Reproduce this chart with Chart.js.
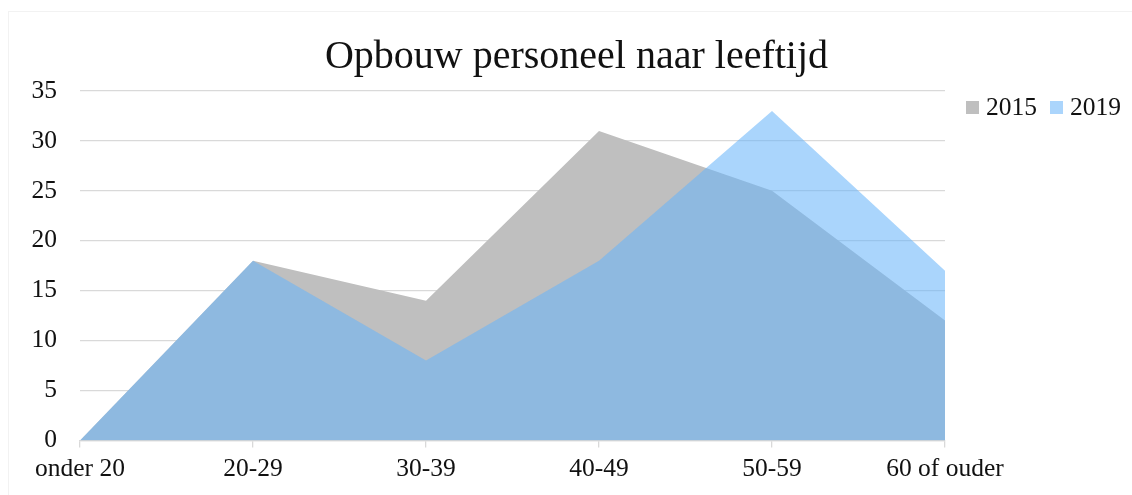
<!DOCTYPE html>
<html>
<head>
<meta charset="utf-8">
<script src="https://cdn.jsdelivr.net/npm/chart.js@4.4.1/dist/chart.umd.min.js"></script>
<style>
  html, body { margin: 0; padding: 0; background: #fff; }
  #wrap { position: relative; width: 1132px; height: 495px; overflow: hidden; }
  #frame { position: absolute; left: 8px; top: 11px; right: -2px; bottom: -2px; border: 1px solid #f2f2f2; }
  canvas { position: absolute; left: 0; top: 0; }
  #titulo { position: absolute; left: 0; width: 1153px; top: 35px; text-align: center; font-family: 'Liberation Serif', serif; font-size: 40px; line-height: 1; color: #111; }
  #legend { position: absolute; left: 966px; top: 92px; display: flex; font-family: 'Liberation Serif', serif; font-size: 25.5px; color: #111; line-height: 30px; }
  #legend span.item { display: flex; align-items: center; margin-right: 13px; }
  #legend span.box { display: inline-block; width: 13px; height: 13px; margin-right: 7px; }
</style>
</head>
<body>
<div id="wrap">
  <div id="frame"></div>
  <canvas id="c" width="1132" height="495"></canvas>
  <div id="titulo"></div>
  <div id="legend"></div>
</div>
<script>
// ---------- dados
const titulo = 'Opbouw personeel naar leeftijd';
const categorias = ['onder 20', '20-29', '30-39', '40-49', '50-59', '60 of ouder'];
const serie2015 = [0, 18, 14, 31, 25, 12];
const serie2019 = [0, 18, 8, 18, 33, 17];
const yTicks = [0, 5, 10, 15, 20, 25, 30, 35];

const cor2015 = '#bfbfbf';
const cor2019 = 'rgba(104,180,250,0.56)';
const cor2019Legenda = '#abd5fc';

Chart.defaults.font.family = "'Liberation Serif', serif";
Chart.defaults.color = '#111';

const chart = new Chart(document.getElementById('c'), {
  type: 'line',
  data: {
    labels: categorias,
    datasets: [
      { label: '2015', data: serie2015, backgroundColor: cor2015, borderWidth: 0, pointRadius: 0, fill: 'origin', order: 2 },
      { label: '2019', data: serie2019, backgroundColor: cor2019, borderWidth: 0, pointRadius: 0, fill: 'origin', order: 1 }
    ]
  },
  options: {
    responsive: false,
    animation: false,
    layout: { padding: { left: 0, right: 187, top: 91, bottom: 3 } },
    scales: {
      x: {
        offset: false,
        grid: { drawOnChartArea: false, drawTicks: true, tickLength: 7, color: '#d9d9d9', lineWidth: 1.3 },
        border: { color: '#d9d9d9', width: 1.3 },
        ticks: { font: { size: 25.5 }, padding: 7, maxRotation: 0, autoSkip: false }
      },
      y: {
        min: 0, max: 35,
        afterBuildTicks: (s) => { s.ticks = yTicks.map(v => ({ value: v })); },
        afterFit: (s) => { s.width = 80; },
        grid: { drawTicks: false, tickLength: 0, color: '#d9d9d9', lineWidth: 1.3 },
        border: { display: false },
        ticks: { font: { size: 25.5 }, padding: 23 }
      }
    },
    plugins: {
      legend: { display: false },
      tooltip: { enabled: false },
      title: { display: false }
    }
  }
});

// título e legenda em HTML
document.getElementById('titulo').textContent = titulo;
const leg = document.getElementById('legend');
[['2015', cor2015], ['2019', cor2019Legenda]].forEach(([txt, cor]) => {
  const it = document.createElement('span');
  it.className = 'item';
  it.innerHTML = `<span class="box" style="background:${cor}"></span>${txt}`;
  leg.appendChild(it);
});
</script>
</body>
</html>
